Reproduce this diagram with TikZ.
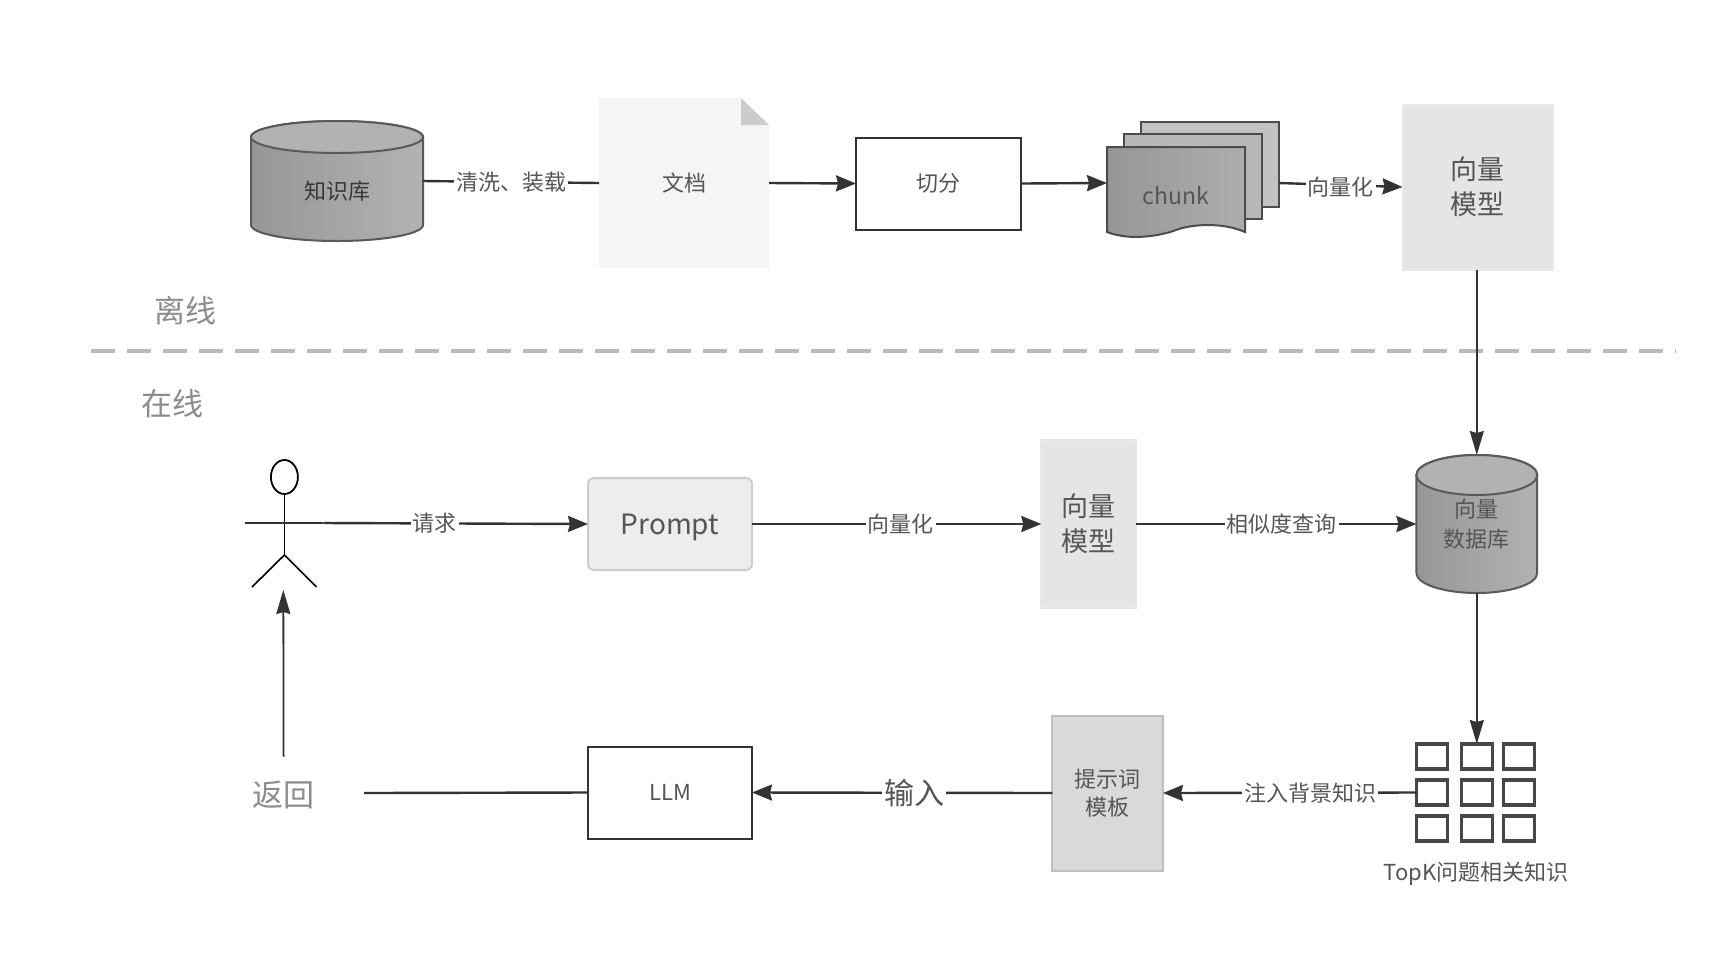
\documentclass[tikz,border=0pt]{standalone}
\usepackage{fontspec}
\setmainfont{Noto Sans CJK SC}
\usetikzlibrary{arrows.meta,shapes.geometric}

\definecolor{inkgray}{HTML}{555555}
\definecolor{linegray}{HTML}{333333}

\tikzset{
    link/.style={line width=1.2pt, draw=linegray},
    flow/.style={link, -{Stealth[length=10pt,width=8pt,inset=1pt]}},
    downflow/.style={line width=.9pt, draw=linegray, -{Stealth[length=12pt,width=7pt,inset=1pt]}},
    lbl/.style={fill=white, inner sep=1pt, text=inkgray, font=\fontsize{11}{14}\selectfont},
    tag/.style={text=gray!90, font=\fontsize{15.5}{18}\selectfont},
    plainbox/.style={draw=linegray, line width=1pt, fill=white, text=inkgray, outer sep=0pt,
        font=\fontsize{11}{14}\selectfont},
    modelbox/.style={draw=black!9, line width=1pt, fill=black!10, text=inkgray, outer sep=0pt,
        align=center, font=\fontsize{13.5}{17.5}\selectfont},
    cell/.style={draw=linegray!90, line width=1.7pt, minimum width=15.5pt, minimum height=12.5pt,
        inner sep=0pt, outer sep=0pt},
}

% side shape of a database: centre x, top y, half width, bottom y, cap height
\newcommand{\dbdraw}[5]{
    \draw[draw=black!65, line width=1pt, left color=black!41, right color=black!30]
        (#1-#3,#2+#5) -- (#1-#3,#4-#5)
        arc[start angle=180, end angle=360, x radius=#3*0.5pt, y radius=#5*0.5pt]
        -- (#1+#3,#2+#5)
        arc[start angle=0, end angle=180, x radius=#3*0.5pt, y radius=#5*0.5pt] -- cycle;
    \draw[draw=black!65, line width=1pt, fill=black!30]
        (#1,#2+#5) ellipse[x radius=#3*0.5pt, y radius=#5*0.5pt];
}
% text set lower than the middle of its node
\newcommand{\lowered}[2]{\raisebox{-#1}[0pt][0pt]{#2}}

\begin{document}
\begin{tikzpicture}[x=0.5pt, y=-0.5pt]
    \useasboundingbox (0,0) rectangle (1735,960);
    \fill[white] (0,0) rectangle (1735,960);

    % offline row
    \dbdraw{337}{121}{86}{241}{16}
    \node[minimum width=86pt, minimum height=60pt, text=black!78, outer sep=0pt,
        font=\fontsize{11}{14}\selectfont] (kb) at (337,181) {\lowered{9pt}{知识库}};

    \fill[black!4] (599,98) -- (741,98) -- (769,125) -- (769,268) -- (599,268) -- cycle;
    \fill[black!20] (741,98) -- (769,125) -- (741,125) -- cycle;
    \node[minimum width=85pt, minimum height=85pt, text=inkgray, outer sep=0pt,
        font=\fontsize{11}{14}\selectfont] (doc) at (684,183) {文档};

    \node[plainbox, minimum width=82.5pt, minimum height=46pt] (split) at (938.5,183.5) {切分};

    \draw[draw=black!70, line width=1pt, fill=black!24] (1141,122) rectangle (1279,207);
    \draw[draw=black!70, line width=1pt, fill=black!28] (1124,134) rectangle (1262,219);
    \draw[draw=black!70, line width=1pt, left color=black!41, right color=black!32]
        (1107,147) -- (1245,147) -- (1245,232)
        .. controls (1222,222) and (1192,224) .. (1176,230)
        .. controls (1160,236) and (1130,241) .. (1107,232) -- cycle;
    \node[minimum width=69pt, minimum height=42.5pt, inner sep=0pt, text=inkgray, outer sep=0pt,
        font=\fontsize{11.5}{14}\selectfont] (chunk) at (1176,183) {\lowered{10.5pt}{chunk}};
    \coordinate (chunkout) at (1279,183);

    \node[modelbox, minimum width=75pt, minimum height=82.5pt] (model) at (1477.5,187) {向量\\模型};

    \draw[link] (kb.east) -- node[lbl]{清洗、装载} (doc.west);
    \draw[flow] (doc.east) -- (split.west);
    \draw[flow] (split.east) -- (chunk.west);
    \draw[flow] (chunkout) -- node[lbl, yshift=-1pt]{向量化} (model.west);

    % divider
    \node[tag] (offline) at (185,311) {离线};
    \node[tag] (online) at (172.6,404) {在线};
    \coordinate (divL) at (90.5,351);
    \coordinate (divR) at (1675,351);
    \draw[draw=black!27, line width=2pt, dash pattern=on 12pt off 6pt] (divL) -- (divR);

    % online row
    \node[draw=black, line width=.9pt, ellipse, minimum width=13.5pt, minimum height=17pt,
        inner sep=0pt, outer sep=0pt] (head) at (284.4,477) {};
    \coordinate (hip) at (284.4,555);
    \coordinate (armL) at (244.8,523);
    \coordinate (armR) at (323.4,523);
    \coordinate (legL) at (252,587);
    \coordinate (legR) at (316.4,587);
    \coordinate (foot) at (283.3,590);
    \draw[line width=.8pt] (head.south) -- (hip);
    \draw[line width=.8pt] (legL) -- (hip) -- (legR);
    \draw[link] (armL) -- (armR);

    \node[draw=black!20, line width=1pt, fill=black!7, rounded corners=3pt, text=inkgray,
        minimum width=82pt, minimum height=46pt, outer sep=0pt,
        font=\fontsize{14}{18}\selectfont] (prompt) at (670,524) {\lowered{5pt}{Prompt}};
    \node[modelbox, minimum width=47.5pt, minimum height=84pt] (modelb) at (1088.8,524) {向量\\模型};

    \dbdraw{1476.8}{455}{60.4}{593}{20}
    \node[minimum width=60.4pt, minimum height=69pt, text=inkgray, align=center, outer sep=0pt,
        font=\fontsize{11}{15}\selectfont] (db) at (1476.8,524) {向量\\数据库};

    \draw[flow] (armR) -- node[lbl, pos=.42]{请求} (prompt.west);
    \draw[flow] (prompt.east) -- node[lbl, pos=.515]{向量化} (modelb.west);
    \draw[flow] (modelb.east) -- node[lbl, pos=.52]{相似度查询} (db.west);
    \draw[downflow] (model.south -| db.north) -- (db.north);

    % answer row
    \foreach \r/\yy in {0/756.5,1/792.5,2/828.5}
        \foreach \c/\xx in {0/1432,1/1476.8,2/1519}
            \node[cell] (cell\r\c) at (\xx,\yy) {};
    \node[text=inkgray, inner sep=0pt, font=\fontsize{11}{12}\selectfont] (topk) at (1476,874) {TopK问题相关知识};

    \node[draw=black!25, line width=1pt, fill=black!15, text=inkgray, align=center, outer sep=0pt,
        minimum width=55.3pt, minimum height=77.5pt,
        font=\fontsize{11}{14}\selectfont] (tmpl) at (1107.7,793) {提示词\\模板};
    \node[plainbox, minimum width=82pt, minimum height=46pt] (llm) at (670,792.5) {LLM};
    \node[tag, minimum width=80.4pt, minimum height=36.5pt, inner sep=0pt, outer sep=0pt] (ret) at (283.6,793) {\lowered{6.5pt}{返回}};

    \draw[downflow] (db.south) -- (cell01.north);
    \draw[flow] (cell10.west) -- node[lbl, pos=.42]{注入背景知识} (tmpl.east);
    \draw[flow] (tmpl.west) -- node[lbl, pos=.46, font=\fontsize{15}{18}\selectfont]{输入} (llm.east);
    \draw[link] (llm.west) -- (ret.east);
    \draw[downflow] (ret.north) -- (foot);
\end{tikzpicture}
\end{document}
